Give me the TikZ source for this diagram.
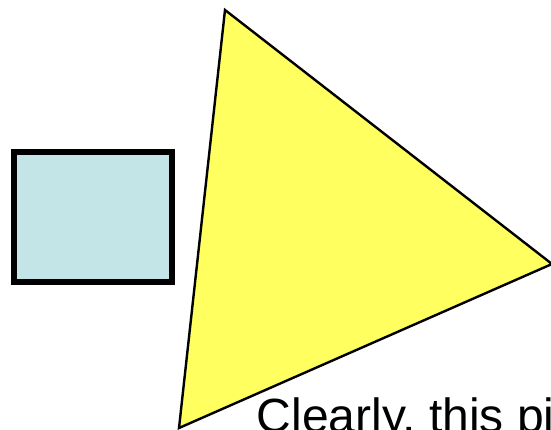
\documentclass[tikz,border=0pt]{standalone}
\usepackage{fontspec}
\setmainfont{Liberation Sans}
\definecolor{boxblue}{HTML}{C4E5E8}
\definecolor{triyellow}{HTML}{FFFF5F}
\tikzset{
  squarebox/.style={draw=black, fill=boxblue, line width=6pt, line join=miter},
  triangleshape/.style={draw=black, fill=triyellow, line width=2.4pt, line join=miter},
  bigtext/.style={inner sep=0pt, anchor=base west, font=\fontsize{48}{56}\selectfont}
}
\begin{document}
\begin{tikzpicture}[x=1pt,y=-1pt]
\useasboundingbox (0,0) rectangle (551,430);
\clip (0,0) rectangle (551,430);
\fill[white] (0,0) rectangle (551,430);
\draw[squarebox] (14,152) rectangle (172,282);
\coordinate (t1) at (225,10);
\coordinate (t2) at (552,264);
\coordinate (t3) at (179,428);
\draw[triangleshape] (t1) -- (t2) -- (t3) -- cycle;
\node[bigtext] (caption) at (256.5,432) {Clearly, this pi};
\end{tikzpicture}
\end{document}
